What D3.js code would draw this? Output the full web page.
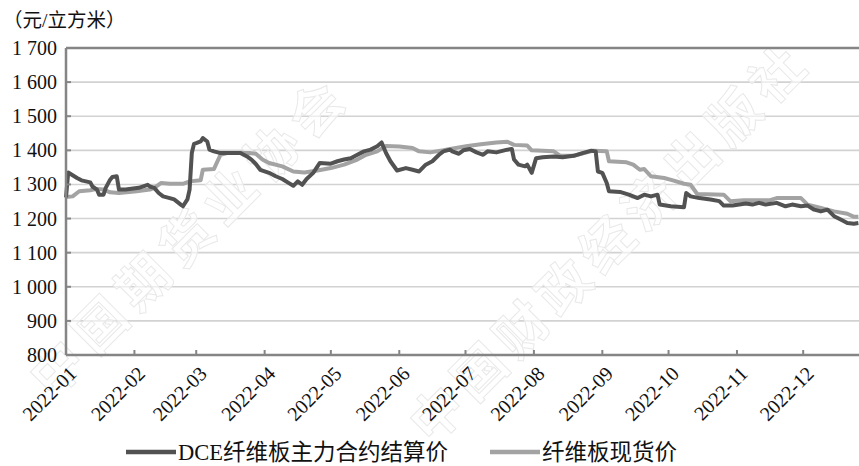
<!DOCTYPE html>
<html>
<head>
<meta charset="utf-8">
<script src="https://cdn.jsdelivr.net/npm/d3@7"></script>
<style>
  html, body { margin: 0; padding: 0; background: #fff; }
  svg { display: block; }
</style>
</head>
<body>
<svg id="chart" width="859" height="466"></svg>
<script>
// DCE fibreboard main contract settlement price (yuan per cubic metre)
const dceDates = [
  "2022-01-01","2022-01-02","2022-01-06","2022-01-08","2022-01-10","2022-01-12","2022-01-13","2022-01-15",
  "2022-01-16","2022-01-18","2022-01-19","2022-01-21","2022-01-22","2022-01-24","2022-01-25","2022-01-28",
  "2022-02-03","2022-02-07","2022-02-08","2022-02-10","2022-02-12","2022-02-14","2022-02-17","2022-02-19",
  "2022-02-22","2022-02-23","2022-02-25","2022-02-26","2022-02-27","2022-02-28","2022-03-01","2022-03-03",
  "2022-03-04","2022-03-06","2022-03-07","2022-03-09","2022-03-12","2022-03-21","2022-03-24","2022-03-26",
  "2022-03-28","2022-03-30","2022-04-03","2022-04-06","2022-04-09","2022-04-12","2022-04-14","2022-04-16",
  "2022-04-18","2022-04-20","2022-04-23","2022-04-26","2022-05-01","2022-05-04","2022-05-07","2022-05-10",
  "2022-05-13","2022-05-16","2022-05-19","2022-05-22","2022-05-24","2022-05-26","2022-05-28","2022-05-31",
  "2022-06-04","2022-06-07","2022-06-10","2022-06-13","2022-06-16","2022-06-19","2022-06-21","2022-06-24",
  "2022-06-25","2022-06-28","2022-06-30","2022-07-03","2022-07-06","2022-07-09","2022-07-11","2022-07-15",
  "2022-07-20","2022-07-22","2022-07-23","2022-07-25","2022-07-28","2022-07-29","2022-07-31","2022-08-02",
  "2022-08-05","2022-08-10","2022-08-14","2022-08-19","2022-08-23","2022-08-27","2022-08-29","2022-08-30",
  "2022-09-01","2022-09-03","2022-09-04","2022-09-09","2022-09-13","2022-09-17","2022-09-20","2022-09-23",
  "2022-09-26","2022-09-27","2022-10-02","2022-10-08","2022-10-09","2022-10-11","2022-10-15","2022-10-20",
  "2022-10-24","2022-10-26","2022-10-30","2022-11-05","2022-11-08","2022-11-11","2022-11-14","2022-11-19",
  "2022-11-23","2022-11-26","2022-11-30","2022-12-03","2022-12-06","2022-12-09","2022-12-12","2022-12-15",
  "2022-12-18","2022-12-21","2022-12-24","2022-12-26"
];
const dceValues = [
  1262,1335,1319,1312,1309,1306,1294,1285,
  1270,1270,1290,1314,1322,1324,1285,1285,
  1290,1299,1294,1290,1275,1265,1260,1256,
  1241,1236,1256,1285,1392,1419,1421,1426,
  1436,1426,1402,1397,1392,1392,1382,1373,
  1360,1343,1334,1324,1316,1304,1296,1309,
  1299,1316,1334,1363,1361,1368,1373,1377,
  1387,1397,1402,1412,1423,1392,1368,1341,
  1348,1343,1338,1358,1368,1387,1397,1402,
  1397,1390,1400,1404,1394,1387,1397,1394,
  1402,1404,1373,1358,1353,1358,1334,1377,
  1380,1382,1380,1384,1392,1399,1397,1338,
  1334,1304,1280,1278,1270,1260,1270,1265,
  1270,1241,1236,1233,1275,1265,1260,1256,
  1251,1238,1238,1244,1241,1246,1241,1246,
  1236,1241,1236,1238,1226,1221,1226,1207,
  1197,1187,1185,1187
];

// Fibreboard spot price (yuan per cubic metre)
const spotDates = [
  "2022-01-01","2022-01-04","2022-01-07","2022-01-12","2022-01-15","2022-01-18","2022-01-21","2022-01-25",
  "2022-02-02","2022-02-08","2022-02-10","2022-02-13","2022-02-17","2022-02-23","2022-02-26","2022-03-03",
  "2022-03-04","2022-03-09","2022-03-12","2022-03-15","2022-03-25","2022-03-28","2022-03-31","2022-04-03",
  "2022-04-09","2022-04-14","2022-04-19","2022-04-25","2022-05-01","2022-05-07","2022-05-13","2022-05-17",
  "2022-05-22","2022-05-26","2022-06-01","2022-06-07","2022-06-10","2022-06-15","2022-06-21","2022-06-24",
  "2022-07-02","2022-07-08","2022-07-15","2022-07-20","2022-07-23","2022-07-29","2022-07-31","2022-08-10",
  "2022-08-13","2022-08-19","2022-08-25","2022-08-28","2022-09-03","2022-09-04","2022-09-12","2022-09-15",
  "2022-09-18","2022-09-20","2022-09-23","2022-09-29","2022-10-03","2022-10-08","2022-10-11","2022-10-14",
  "2022-10-26","2022-10-29","2022-11-04","2022-11-16","2022-11-19","2022-11-30","2022-12-03","2022-12-09",
  "2022-12-15","2022-12-21","2022-12-24","2022-12-26"
];
const spotValues = [
  1263,1265,1280,1283,1287,1285,1277,1275,
  1280,1285,1290,1304,1302,1302,1309,1312,
  1343,1345,1387,1392,1392,1390,1373,1363,
  1353,1338,1335,1341,1348,1358,1373,1387,
  1397,1413,1411,1407,1397,1394,1400,1404,
  1413,1418,1423,1425,1416,1414,1400,1397,
  1384,1384,1394,1399,1397,1368,1365,1358,
  1343,1345,1324,1319,1312,1302,1299,1272,
  1270,1251,1254,1254,1260,1260,1241,1231,
  1221,1214,1205,1205
];

const seriesNames = ["DCE纤维板主力合约结算价", "纤维板现货价"];
const monthLabels = ["2022-01","2022-02","2022-03","2022-04","2022-05","2022-06",
                     "2022-07","2022-08","2022-09","2022-10","2022-11","2022-12"];
const yTicks = [800, 900, 1000, 1100, 1200, 1300, 1400, 1500, 1600, 1700];
const unitLabel = "（元/立方米）";
const watermarks = ["中国期货业协会", "中国财政经济出版社"];

const W = 859, H = 466;
const svg = d3.select("#chart");
const serif = "'Liberation Serif','Times New Roman','Noto Sans CJK SC',serif";
const parse = d3.timeParse("%Y-%m-%d");

const x = d3.scaleTime()
  .domain([parse("2022-01-01"), parse("2023-01-01")])
  .range([66, 871.6]);
const y = d3.scaleLinear().domain([800, 1700]).range([355, 48]);

// gridlines
svg.append("g")
  .selectAll("line")
  .data(yTicks.filter(v => v > 800 && v < 1700))
  .join("line")
  .attr("x1", 66).attr("x2", W)
  .attr("y1", d => y(d)).attr("y2", d => y(d))
  .attr("stroke", "#d2d2d2").attr("stroke-width", 1.6);

// faint diagonal watermark
const wm = svg.append("g").attr("font-family", "'Noto Sans CJK SC',sans-serif")
  .attr("font-weight", 700).attr("font-size", 52)
  .attr("fill", "#ffffff").attr("fill-opacity", 0.6)
  .attr("stroke", "#e9e9e9").attr("stroke-width", 1);
wm.append("text")
  .attr("transform", "translate(52,400) rotate(-45)")
  .attr("letter-spacing", 9)
  .text(watermarks[0]);
wm.append("text")
  .attr("transform", "translate(432,446) rotate(-45)")
  .attr("letter-spacing", 8)
  .text(watermarks[1]);

// series lines
const line = d3.line()
  .x(d => x(d.date))
  .y(d => y(d.value));

const spot = spotDates.map((d, i) => ({ date: parse(d), value: spotValues[i] }));
const dce = dceDates.map((d, i) => ({ date: parse(d), value: dceValues[i] }));

svg.append("path").datum(spot)
  .attr("d", line)
  .attr("fill", "none").attr("stroke", "#a3a3a3")
  .attr("stroke-width", 4).attr("stroke-linejoin", "round");
svg.append("path").datum(dce)
  .attr("d", line)
  .attr("fill", "none").attr("stroke", "#525252")
  .attr("stroke-width", 4).attr("stroke-linejoin", "round");

// axes frame
const axisColor = "#858585";
svg.append("line").attr("x1", 66).attr("x2", W).attr("y1", y(1700)).attr("y2", y(1700))
  .attr("stroke", axisColor).attr("stroke-width", 2.5);
svg.append("line").attr("x1", 66).attr("x2", W).attr("y1", y(800)).attr("y2", y(800))
  .attr("stroke", axisColor).attr("stroke-width", 2.5);
svg.append("line").attr("x1", 66).attr("x2", 66).attr("y1", y(1700)).attr("y2", y(800))
  .attr("stroke", axisColor).attr("stroke-width", 2.5);

// y axis ticks and labels
const yAxis = svg.append("g");
yAxis.selectAll("line").data(yTicks).join("line")
  .attr("x1", 66).attr("x2", 71)
  .attr("y1", d => y(d)).attr("y2", d => y(d))
  .attr("stroke", axisColor).attr("stroke-width", 2);
yAxis.selectAll("text").data(yTicks).join("text")
  .attr("x", 57).attr("y", d => y(d)).attr("dy", "0.35em")
  .attr("text-anchor", "end")
  .attr("font-family", serif).attr("font-size", 20).attr("fill", "#111")
  .text(d => d3.format(",")(d).replace(",", " "));

// x axis ticks and labels
const monthDates = monthLabels.map(m => parse(m + "-01"));
const xAxis = svg.append("g");
xAxis.selectAll("line").data(monthDates).join("line")
  .attr("x1", d => x(d)).attr("x2", d => x(d))
  .attr("y1", y(800)).attr("y2", y(800) - 5)
  .attr("stroke", axisColor).attr("stroke-width", 2);
xAxis.selectAll("text").data(monthLabels).join("text")
  .attr("transform", (d, i) => `translate(${x(monthDates[i]) + 2},${y(800) + 10}) rotate(-45)`)
  .attr("text-anchor", "end").attr("dy", "0.7em")
  .attr("font-family", serif).attr("font-size", 20).attr("fill", "#111")
  .text(d => d);

// unit label
svg.append("text").attr("x", 3).attr("y", 27)
  .attr("font-family", serif).attr("font-size", 19.5).attr("fill", "#111")
  .text(unitLabel);

// legend
const legend = svg.append("g").attr("font-family", serif).attr("font-size", 22.5).attr("fill", "#111");
const legendItems = [
  { name: seriesNames[0], color: "#525252", x: 126 },
  { name: seriesNames[1], color: "#a3a3a3", x: 490 }
];
legendItems.forEach(it => {
  legend.append("line").attr("x1", it.x).attr("x2", it.x + 50)
    .attr("y1", 452).attr("y2", 452)
    .attr("stroke", it.color).attr("stroke-width", 4.5);
  legend.append("text").attr("x", it.x + 52).attr("y", 460).text(it.name);
});
</script>
</body>
</html>
